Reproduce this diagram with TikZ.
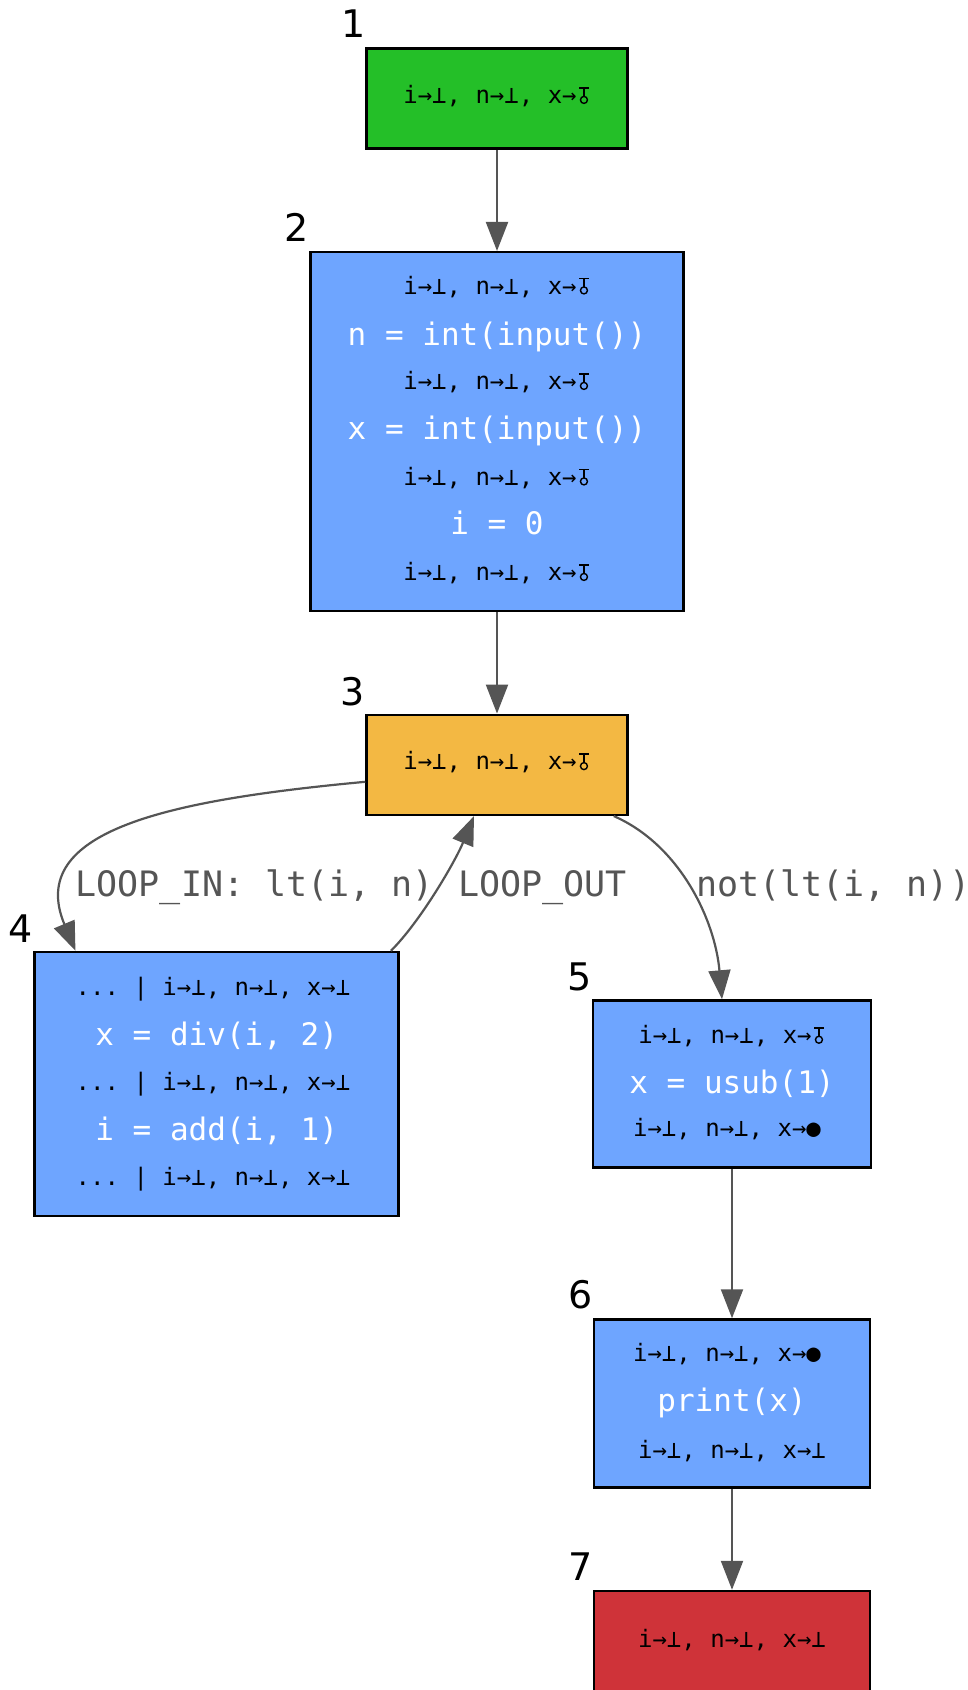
\documentclass[tikz,border=0pt]{standalone}
\usepackage{fontspec}
\setmainfont{DejaVu Sans}
\setmonofont{DejaVu Sans Mono}
\newcommand\tcirc{\tikz[baseline=0pt,x=1pt,y=1pt]{\path (-2.5,0) rectangle (11.5,1);\draw[draw=black,line width=1.8pt] (0,15.5) -- (9.5,15.5) (4.75,15.5) -- (4.75,7.4);\draw[draw=black,line width=1.4pt] (4.75,3.6) circle (3.5);}}
\usetikzlibrary{arrows.meta}
\definecolor{cgreen}{HTML}{24BF28}
\definecolor{cblue}{HTML}{6EA5FF}
\definecolor{corange}{HTML}{F3B843}
\definecolor{cred}{HTML}{CF3339}
\definecolor{cedge}{HTML}{555555}
\tikzset{
  blk/.style={draw=black, line width=2.5pt, inner sep=0pt},
  st/.style={font={\ttfamily\fontsize{24}{28}\selectfont}, text=black, anchor=base, inner sep=0pt},
  code/.style={font={\ttfamily\fontsize{31}{36}\selectfont}, text=white, anchor=base, inner sep=0pt},
  num/.style={font={\fontsize{38}{44}\selectfont}, text=black, anchor=base, inner sep=0pt},
  lbl/.style={font={\ttfamily\fontsize{35}{40}\selectfont}, text=cedge, anchor=base west, inner sep=0pt},
  conn/.style={draw=cedge, line width=2.2pt, -{Triangle[length=29pt,width=22pt]}}
}
\begin{document}
\begin{tikzpicture}[x=1pt,y=-1pt]
\useasboundingbox (0,0) rectangle (968,1690);
% boxes
\node[blk, fill=cgreen, minimum width=261pt, minimum height=100pt] (n1) at (497,98.6) {};
\node[blk, fill=cblue, minimum width=373pt, minimum height=359pt] (n2) at (497,431.7) {};
\node[blk, fill=corange, minimum width=261pt, minimum height=100pt] (n3) at (497,764.8) {};
\node[blk, fill=cblue, minimum width=364pt, minimum height=264pt] (n4) at (216.7,1084) {};
\node[blk, fill=cblue, minimum width=278pt, minimum height=167pt] (n5) at (732,1084) {};
\node[blk, fill=cblue, minimum width=276pt, minimum height=168pt] (n6) at (732,1403.5) {};
\node[blk, fill=cred, minimum width=276pt, minimum height=100pt] (n7) at (732,1641) {};
% numbers
\node[num] (k1) at (354,37) {1};
\node[num] (k2) at (296.5,241.5) {2};
\node[num] (k3) at (352.5,705) {3};
\node[num] (k4) at (21,942) {4};
\node[num] (k5) at (580,990.7) {5};
\node[num] (k6) at (581,1308.7) {6};
\node[num] (k7) at (581,1580.3) {7};
% texts
\node[st] (t1a) at (497,103.5) {i→⊥, n→⊥, x→\tcirc};
\node[st] (t2a) at (497,294) {i→⊥, n→⊥, x→\tcirc};
\node[code] (t2b) at (497,345) {n = int(input())};
\node[st] (t2c) at (497,389.5) {i→⊥, n→⊥, x→\tcirc};
\node[code] (t2d) at (497,439.5) {x = int(input())};
\node[st] (t2e) at (497,485) {i→⊥, n→⊥, x→\tcirc};
\node[code] (t2f) at (497,534) {i = 0};
\node[st] (t2g) at (497,580.5) {i→⊥, n→⊥, x→\tcirc};
\node[st] (t3a) at (497,769.7) {i→⊥, n→⊥, x→\tcirc};
\node[st] (t4a) at (213,995) {... | i→⊥, n→⊥, x→⊥};
\node[code] (t4b) at (216.7,1045) {x = div(i, 2)};
\node[st] (t4c) at (213,1090) {... | i→⊥, n→⊥, x→⊥};
\node[code] (t4d) at (216.7,1140) {i = add(i, 1)};
\node[st] (t4e) at (213,1185) {... | i→⊥, n→⊥, x→⊥};
\node[st] (t5a) at (732,1043.3) {i→⊥, n→⊥, x→\tcirc};
\node[code] (t5b) at (732,1093.3) {x = usub(1)};
\node[st] (t5c) at (727,1136.7) {i→⊥, n→⊥, x→●};
\node[st] (t6a) at (727,1361.7) {i→⊥, n→⊥, x→●};
\node[code] (t6b) at (732,1411.7) {print(x)};
\node[st] (t6c) at (732,1458.3) {i→⊥, n→⊥, x→⊥};
\node[st] (t7a) at (732,1647.3) {i→⊥, n→⊥, x→⊥};
% edges
\draw[conn] (n1) -- (n2);
\draw[conn] (n2) -- (n3);
\draw[conn] (n5) -- (n6);
\draw[conn] (n6) -- (n7);
\draw[conn] ([yshift=-17pt]n3.west) .. controls (170,800) and (25,830) .. ([xshift=42pt]n4.north west);
\draw[conn] ([xshift=-9pt]n4.north east) .. controls (420,922) and (455,862) .. ([xshift=-23pt]n3.south);
\draw[conn] ([xshift=-15pt]n3.south east) .. controls (680,845) and (715,920) .. ([xshift=-10pt]n5.north);
% edge labels
\node[lbl] (l1) at (75.5,896) {LOOP\_IN: lt(i, n)};
\node[lbl] (l2) at (458,896) {LOOP\_OUT};
\node[lbl] (l3) at (696,896) {not(lt(i, n))};
\end{tikzpicture}
\end{document}
